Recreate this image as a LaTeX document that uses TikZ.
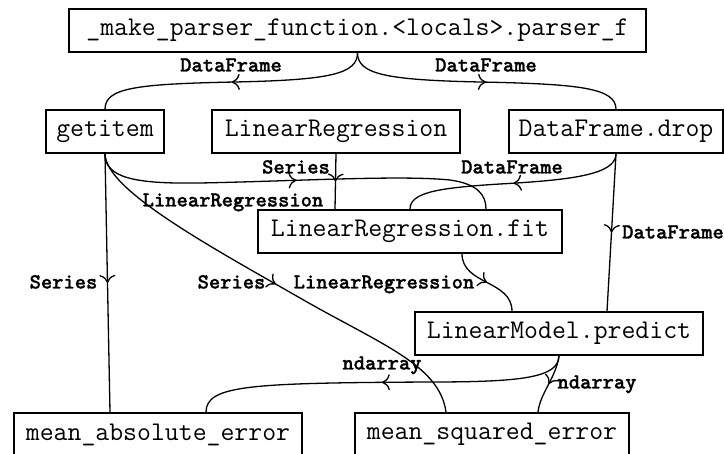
\documentclass[tikz,border=0pt]{standalone}
\usetikzlibrary{arrows.meta,decorations.markings}
\font\lblfont="[lmmonolt10-bold.otf]:embolden=1.2" at 21.5pt
\tikzset{
  box/.style={draw, line width=1.4pt, font=\ttfamily\fontsize{27}{30}\selectfont,
    minimum height=43pt, inner xsep=4pt, inner ysep=0pt, anchor=center},
  lbl/.style={font=\lblfont,
    inner sep=0pt, anchor=center, text height=13pt, text depth=0pt},
  flow/.style={line width=1.3pt, postaction={decorate},
    decoration={markings, mark=at position 0.5 with {\arrow{Computer Modern Rightarrow[length=8pt,width=16pt]}}}},
}
\begin{document}
\begin{tikzpicture}[x=1pt,y=-1pt]
\path[fill=white] (0,0) rectangle (724,454);
\useasboundingbox (0,0) rectangle (724,454);

\node[box, minimum width=577pt] (top) at (357.5,30.5) {\_make\_parser\_function.<locals>.parser\_f};
\node[box, minimum width=118pt] (getitem) at (105,131.5) {getitem};
\node[box, minimum width=248pt] (LR) at (336,131.5) {LinearRegression};
\node[box, minimum width=214pt] (drop) at (616,131.5) {DataFrame.drop};
\node[box, minimum width=304pt] (fit) at (410,231.5) {LinearRegression.fit};
\node[box, minimum width=288pt] (predict) at (559,333.5) {LinearModel.predict};
\node[box, minimum width=288pt] (mae) at (158,434.5) {mean\_absolute\_error};
\node[box, minimum width=274pt] (mse) at (492,434.5) {mean\_squared\_error};

% edges
\draw[flow] (top.south) .. controls (357.5,74) and (330,80) .. (235,82) .. controls (135,84) and (105,88) .. (getitem.north);
\draw[flow] (top.south) .. controls (357.5,74) and (385,80) .. (480,82) .. controls (580,84) and (616,88) .. (drop.north);
\draw[flow] (getitem.south) .. controls (105,178) and (135,184) .. (200,183) .. controls (300,181) and (400,175) .. (450,180) .. controls (478,184) and (486,195) .. ([xshift=76pt]fit.north);
\draw[flow] (drop.south) .. controls (616,175) and (570,180) .. (500,184) .. controls (435,188) and (410,193) .. (fit.north);
\draw[flow] (LR.south) -- ([xshift=-75pt]fit.north);
\draw[flow] (getitem.south) -- ([xshift=-48pt]mae.north);
\draw[flow] (getitem.south) .. controls (105,190) and (213,248) .. (300,298) .. controls (380,344) and (440,365) .. ([xshift=-46pt]mse.north);
\draw[flow] ([xshift=52pt]fit.south) .. controls (462,285) and (512,280) .. ([xshift=-47pt]predict.north);
\draw[flow] (drop.south) -- ([xshift=48pt]predict.north);
\draw[flow] (predict.south) .. controls (559,378) and (520,382) .. (430,382) .. controls (250,383) and (206,385) .. ([xshift=48pt]mae.north);
\draw[flow] (predict.south) .. controls (556,378) and (540,393) .. ([xshift=46pt]mse.north);

% labels
\node[lbl] (l1) at (231,65) {DataFrame};
\node[lbl] (l2) at (486,65) {DataFrame};
\node[lbl] (l3) at (296,167) {Series};
\node[lbl] (l4) at (512,167) {DataFrame};
\node[lbl] (l5) at (233,200) {LinearRegression};
\node[lbl] (l6) at (63.5,282) {Series};
\node[lbl] (l7) at (231.5,282) {Series};
\node[lbl] (l8) at (384,282) {LinearRegression};
\node[lbl] (l9) at (673,232) {DataFrame};
\node[lbl] (l10) at (382,363) {ndarray};
\node[lbl] (l11) at (597,382) {ndarray};
\end{tikzpicture}
\end{document}
